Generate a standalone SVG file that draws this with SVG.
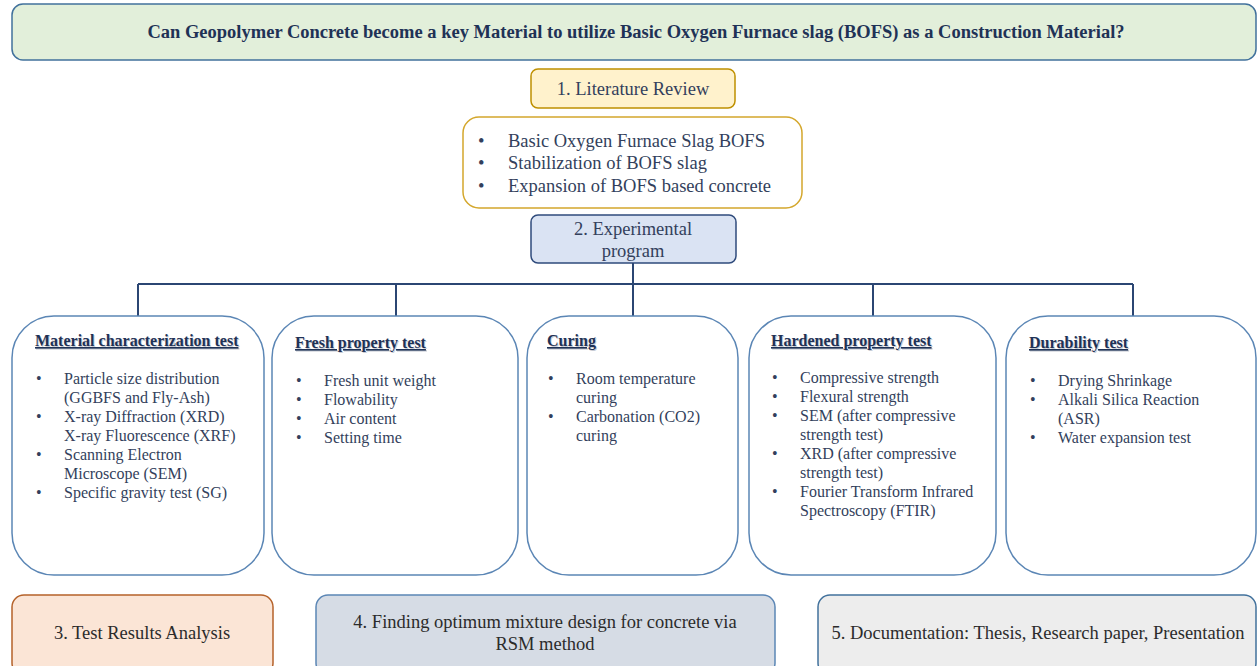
<svg xmlns="http://www.w3.org/2000/svg" width="1258" height="666" viewBox="0 0 1258 666" font-family="Liberation Serif, Tinos, Times New Roman, serif">
<style>
.tx{fill:#333f5c}
.title{font-weight:bold;font-size:18.5px;fill:#1f3256}
.big{font-size:18.5px}
.lb{font-size:18.5px}
.t{font-size:16px;fill:#333f5c}
.h{font-size:16px;font-weight:bold;text-decoration:underline;fill:#1f3256}
.hs{font-size:16px;font-weight:bold;text-decoration:underline;fill:#c8ccd4}
.tb{fill:#ffffff;stroke:#5b86b5;stroke-width:1.5}
.conn{stroke:#2b4673;stroke-width:2;fill:none}
.dk{fill:#2b2b2b}
</style>
<g id="title">
<rect x="12" y="4" width="1244" height="56" rx="11" fill="#e2efda" stroke="#41719c" stroke-width="1.5"/>
<text class="title" x="636" y="38" text-anchor="middle">Can Geopolymer Concrete become a key Material to utilize Basic Oxygen Furnace slag (BOFS) as a Construction Material?</text>
</g>
<g id="literature">
<rect x="531" y="69" width="204" height="39" rx="7" fill="#fff2cc" stroke="#bf9000" stroke-width="1.5"/>
<text class="big tx" x="633" y="95" text-anchor="middle">1. Literature Review</text>
</g>
<g id="litlist" class="tx">
<rect x="463" y="117" width="339" height="91" rx="16" fill="#ffffff" stroke="#d4a72c" stroke-width="1.5"/>
<text class="lb" x="478" y="147">•</text><text class="lb" x="508" y="147">Basic Oxygen Furnace Slag BOFS</text>
<text class="lb" x="478" y="169">•</text><text class="lb" x="508" y="169">Stabilization of BOFS slag</text>
<text class="lb" x="478" y="192">•</text><text class="lb" x="508" y="192">Expansion of BOFS based concrete</text>
</g>
<g id="experimental">
<rect x="531" y="215" width="205" height="48" rx="7" fill="#dae3f3" stroke="#2f4b7c" stroke-width="1.5"/>
<text class="big tx" x="633" y="235" text-anchor="middle">2. Experimental</text>
<text class="big tx" x="633" y="257" text-anchor="middle">program</text>
</g>
<g id="connectors">
<path class="conn" d="M633 263V284M138 284H1133M138 284V316M396 284V316M633 284V316M873 284V316M1133 284V316"/>
</g>
<g id="material">
<rect class="tb" x="12" y="316" width="252" height="259" rx="42"/>
<text class="hs" x="36" y="347">Material characterization test</text>
<text class="h" x="35" y="346">Material characterization test</text>
<text class="t" x="36" y="384">•</text><text class="t" x="64" y="384">Particle size distribution</text>
<text class="t" x="64" y="403">(GGBFS and Fly-Ash)</text>
<text class="t" x="36" y="422">•</text><text class="t" x="64" y="422">X-ray Diffraction (XRD)</text>
<text class="t" x="64" y="441">X-ray Fluorescence (XRF)</text>
<text class="t" x="36" y="460">•</text><text class="t" x="64" y="460">Scanning Electron</text>
<text class="t" x="64" y="479">Microscope (SEM)</text>
<text class="t" x="36" y="498">•</text><text class="t" x="64" y="498">Specific gravity test (SG)</text>
</g>
<g id="fresh">
<rect class="tb" x="272" y="316" width="246" height="259" rx="42"/>
<text class="hs" x="296" y="349">Fresh property test</text>
<text class="h" x="295" y="348">Fresh property test</text>
<text class="t" x="296" y="386">•</text><text class="t" x="324" y="386">Fresh unit weight</text>
<text class="t" x="296" y="405">•</text><text class="t" x="324" y="405">Flowability</text>
<text class="t" x="296" y="424">•</text><text class="t" x="324" y="424">Air content</text>
<text class="t" x="296" y="443">•</text><text class="t" x="324" y="443">Setting time</text>
</g>
<g id="curing">
<rect class="tb" x="527" y="316" width="211" height="259" rx="42"/>
<text class="hs" x="548" y="347">Curing</text>
<text class="h" x="547" y="346">Curing</text>
<text class="t" x="548" y="384">•</text><text class="t" x="576" y="384">Room temperature</text>
<text class="t" x="576" y="403">curing</text>
<text class="t" x="548" y="422">•</text><text class="t" x="576" y="422">Carbonation (CO2)</text>
<text class="t" x="576" y="441">curing</text>
</g>
<g id="hardened">
<rect class="tb" x="749" y="316" width="247" height="259" rx="42"/>
<text class="hs" x="772" y="347">Hardened property test</text>
<text class="h" x="771" y="346">Hardened property test</text>
<text class="t" x="772" y="383">•</text><text class="t" x="800" y="383">Compressive strength</text>
<text class="t" x="772" y="402">•</text><text class="t" x="800" y="402">Flexural strength</text>
<text class="t" x="772" y="421">•</text><text class="t" x="800" y="421">SEM (after compressive</text>
<text class="t" x="800" y="440">strength test)</text>
<text class="t" x="772" y="459">•</text><text class="t" x="800" y="459">XRD (after compressive</text>
<text class="t" x="800" y="478">strength test)</text>
<text class="t" x="772" y="497">•</text><text class="t" x="800" y="497">Fourier Transform Infrared</text>
<text class="t" x="800" y="516">Spectroscopy (FTIR)</text>
</g>
<g id="durability">
<rect class="tb" x="1006" y="316" width="250" height="259" rx="42"/>
<text class="hs" x="1030" y="349">Durability test</text>
<text class="h" x="1029" y="348">Durability test</text>
<text class="t" x="1030" y="386">•</text><text class="t" x="1058" y="386">Drying Shrinkage</text>
<text class="t" x="1030" y="405">•</text><text class="t" x="1058" y="405">Alkali Silica Reaction</text>
<text class="t" x="1058" y="424">(ASR)</text>
<text class="t" x="1030" y="443">•</text><text class="t" x="1058" y="443">Water expansion test</text>
</g>
<g id="analysis">
<rect x="12" y="595" width="261" height="80" rx="12" fill="#fbe5d6" stroke="#b5622a" stroke-width="1.5"/>
<text class="big dk" x="142" y="639" text-anchor="middle">3. Test Results Analysis</text>
</g>
<g id="optimum">
<rect x="316" y="595" width="459" height="80" rx="12" fill="#d6dce5" stroke="#5b86b5" stroke-width="1.5"/>
<text class="big dk" x="545" y="628" text-anchor="middle">4. Finding optimum mixture design for concrete via</text>
<text class="big dk" x="545" y="650" text-anchor="middle">RSM method</text>
</g>
<g id="documentation">
<rect x="818" y="595" width="438" height="80" rx="12" fill="#ededed" stroke="#41719c" stroke-width="1.5"/>
<text class="big dk" x="1038" y="639" text-anchor="middle">5. Documentation: Thesis, Research paper, Presentation</text>
</g>
</svg>
